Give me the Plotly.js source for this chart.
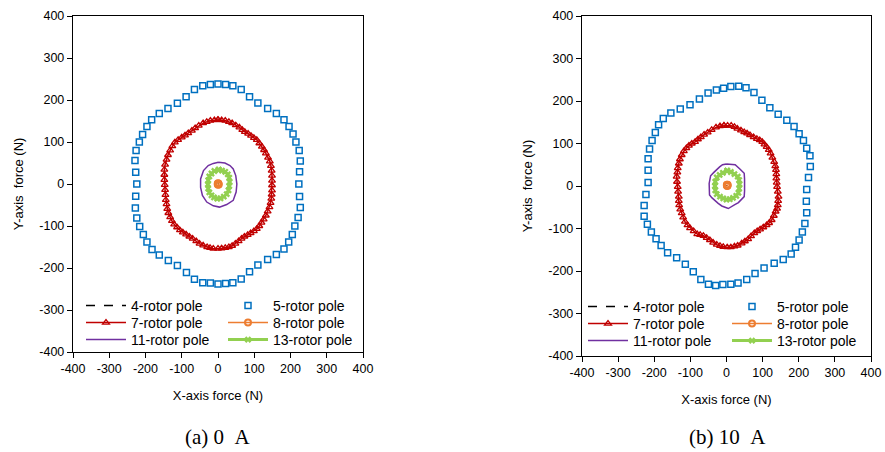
<!DOCTYPE html>
<html>
<head>
<meta charset="utf-8">
<script src="https://cdn.plot.ly/plotly-3.0.1.min.js"></script>
<style>html,body{margin:0;padding:0;background:#fff;}#chart{width:885px;height:452px;}</style>
</head>
<body>
<div id="chart"></div>
<script>
// ---------- tick labels ----------
const tickVals = [-400, -300, -200, -100, 0, 100, 200, 300, 400];
const tickText = ['-400', '-300', '-200', '-100', '0', '100', '200', '300', '400'];
const seriesNames = ['4-rotor pole', '5-rotor pole', '7-rotor pole', '8-rotor pole', '11-rotor pole', '13-rotor pole'];
const captions = ['(a) 0\u00a0\u00a0A', '(b) 10\u00a0\u00a0A'];

// ---------- (a) 0 A : [X force, Y force] ----------
const p4_0A = [[0, 0], [1, 1], [0, 1]];
const p5_0A = [[0,238],[21,237],[41,234],[64,225],[87,208],[110,193],[137,180],[161,168],[182,153],[196,137],[207,119],[215,100],[224,80],[227,55],[225,29],[223,0],
  [225,-30],[227,-56],[221,-80],[212,-100],[205,-120],[195,-138],[182,-155],[161,-168],[137,-180],[110,-193],[87,-209],[64,-226],[41,-235],[21,-237],[0,-238],
  [-21,-236],[-42,-235],[-65,-227],[-87,-211],[-112,-194],[-137,-182],[-162,-169],[-182,-156],[-196,-138],[-206,-120],[-216,-101],[-224,-81],[-228,-57],[-227,-29],[-224,0],
  [-227,28],[-229,56],[-226,80],[-217,100],[-208,118],[-196,137],[-183,153],[-162,168],[-138,180],[-112,192],[-88,208],[-65,225],[-42,234],[-21,237]];
const p7_0A = [[0,153],[10,152],[20,151],[30,148],[39,145],[49,140],[59,135],[67,129],[74,124],[83,120],[91,115],[99,110],[107,105],[114,97],[121,89],[127,81],[132,73],[138,63],[143,54],[146,43],[148,32],[149,20],[149,8],
  [149,-3],[149,-15],[148,-25],[147,-35],[145,-45],[142,-55],[137,-65],[132,-75],[126,-84],[120,-92],[114,-100],[107,-107],[99,-112],[90,-117],[82,-121],[73,-125],[65,-130],[57,-136],[48,-142],[39,-147],[30,-150],[20,-152],[10,-153],
  [0,-154],[-13,-154],[-22,-152],[-30,-150],[-41,-146],[-51,-142],[-60,-136],[-70,-130],[-79,-125],[-88,-120],[-97,-115],[-105,-110],[-113,-103],[-121,-96],[-127,-88],[-132,-79],[-137,-69],[-140,-59],[-142,-48],[-144,-38],[-145,-26],[-146,-14],
  [-147,-2],[-148,10],[-148,22],[-148,34],[-146,46],[-142,58],[-138,69],[-132,80],[-126,90],[-119,99],[-110,105],[-100,111],[-91,116],[-82,121],[-72,127],[-63,133],[-53,139],[-41,145],[-31,148],[-21,151],[-10,152],[0,153]];
const p8_0A = [[1,1],[-1,0],[2,-1],[0,-2],[0,2],[1,0]];
const p11_0A = [[1,52],[10,51],[19,50],[33,44],[42,36],[49,20],[52,0],[50,-19],[42,-39],[24,-49],[4,-55],[-13,-52],[-31,-43],[-43,-27],[-48,-8],[-48,12],[-40,32],[-27,44],[-13,49],[1,52]];
const p13_0A = [[2,34],[11,32],[20,29],[27,23],[31,15],[32,5],[31,-5],[29,-15],[24,-24],[16,-30],[7,-34],[-2,-35],[-11,-32],[-18,-27],[-24,-20],[-27,-11],[-28,-1],[-27,9],[-24,18],[-18,25],[-10,31],[2,34]];

// ---------- (b) 10 A ----------
const p4_10A = [[0, 0], [1, 1], [0, 1]];
const p5_10A = [[-8,230],[12,234],[34,235],[54,231],[76,220],[98,202],[120,184],[143,169],[167,155],[187,140],[201,123],[213,107],[222,89],[231,71],[232,46],[227,20],
  [222,-8],[221,-36],[222,-63],[217,-88],[210,-108],[201,-127],[191,-144],[179,-160],[157,-173],[132,-182],[104,-193],[79,-206],[56,-220],[32,-228],[12,-231],
  [-10,-232],[-30,-234],[-50,-231],[-71,-220],[-92,-202],[-114,-184],[-138,-169],[-163,-157],[-181,-140],[-195,-124],[-208,-108],[-219,-90],[-228,-71],[-228,-46],[-223,-20],
  [-217,8],[-217,37],[-217,64],[-213,87],[-206,107],[-197,126],[-188,144],[-175,159],[-154,172],[-128,181],[-101,191],[-75,205],[-51,219],[-28,226]];
const p7_10A = [[-7,142],[3,142],[13,142],[22,139],[30,135],[40,131],[49,127],[57,124],[65,120],[75,115],[84,111],[92,108],[99,104],[105,98],[111,92],[117,85],[122,77],[127,67],[132,57],[135,47],[137,38],[138,28],[138,18],[139,8],
  [140,-2],[142,-13],[144,-25],[143,-35],[142,-45],[140,-53],[136,-60],[131,-70],[125,-80],[118,-87],[111,-92],[102,-97],[93,-102],[85,-106],[77,-111],[68,-118],[60,-125],[51,-130],[42,-135],[31,-140],[22,-142],[12,-144],[2,-144],
  [-9,-143],[-18,-141],[-27,-138],[-37,-133],[-46,-127],[-55,-122],[-64,-117],[-73,-115],[-81,-113],[-91,-106],[-101,-99],[-108,-92],[-115,-84],[-120,-74],[-124,-64],[-128,-55],[-131,-45],[-132,-35],[-132,-25],[-134,-13],
  [-135,-2],[-137,10],[-138,22],[-136,32],[-135,42],[-132,53],[-129,63],[-124,73],[-118,82],[-111,89],[-104,95],[-96,100],[-87,104],[-79,110],[-71,115],[-62,121],[-52,126],[-41,132],[-29,138],[-18,141],[-7,142]];
const p8_10A = [[2,2],[1,1],[3,3],[2,0],[1,3],[3,1]];
const p11_10A = [[0,52],[12,51],[24,50],[37,40],[49,30],[50,16],[51,2],[50,-12],[49,-25],[41,-32],[33,-39],[23,-44],[14,-49],[5,-53],[-4,-50],[-13,-47],[-23,-41],[-32,-35],[-40,-28],[-47,-21],[-48,-7],[-48,6],[-46,15],[-44,24],[-35,32],[-27,39],[-19,45],[-11,50],[0,52]];
const p13_10A = [[2,36],[12,33],[22,28],[31,22],[35,14],[36,4],[35,-6],[33,-16],[27,-23],[18,-28],[9,-31],[0,-32],[-9,-29],[-18,-25],[-27,-19],[-31,-10],[-32,0],[-31,10],[-27,20],[-19,26],[-10,31],[2,36]];

const panels = [
  [p4_0A, p5_0A, p7_0A, p8_0A, p11_0A, p13_0A],
  [p4_10A, p5_10A, p7_10A, p8_10A, p11_10A, p13_10A]
];

// ---------- styles ----------
const styles = [
  {mode: 'lines', line: {color: '#000000', width: 1.5, dash: 'dash'}},
  {mode: 'markers', marker: {symbol: 'square-open', size: 6, color: '#0070C0', line: {width: 1.5, color: '#0070C0'}}},
  {mode: 'lines+markers', line: {color: '#C00000', width: 1.5}, marker: {symbol: 'triangle-up-open', size: 6, color: '#C00000', line: {width: 1.3, color: '#C00000'}}},
  {mode: 'lines+markers', line: {color: '#ED7D31', width: 1.5}, marker: {symbol: 'circle-open', size: 6, color: '#ED7D31', line: {width: 2, color: '#ED7D31'}}},
  {mode: 'lines', line: {color: '#7030A0', width: 1.5}},
  {mode: 'lines+markers', line: {color: '#92D050', width: 3}, marker: {symbol: 'x', size: 6, color: '#92D050'}}
];

const W = 885, H = 452;
// legend entry positions (px): [left, top] per panel, per series
const legendPos = [
  [[81, 290], [223, 290], [81, 307], [223, 307], [81, 324], [223, 324]],
  [[583, 291], [727, 291], [583, 308], [727, 308], [583, 325], [727, 325]]
];

const traces = [];
const layout = {
  width: W, height: H,
  margin: {l: 0, r: 0, t: 0, b: 0},
  paper_bgcolor: '#ffffff', plot_bgcolor: '#ffffff',
  font: {family: 'Liberation Sans, Arial, sans-serif', size: 12, color: '#000000'},
  showlegend: true,
  annotations: []
};

const xDomains = [[73 / W, 363 / W], [582 / W, 871 / W]];
const yDomains = [[1 - 352 / H, 1 - 16 / H], [1 - 356 / H, 1 - 16 / H]];
const titleX = [218, 727];

let legendIdx = 0;
panels.forEach((series, p) => {
  const xa = p === 0 ? 'x' : 'x2';
  const ya = p === 0 ? 'y' : 'y2';
  series.forEach((pts, s) => {
    legendIdx += 1;
    const lname = legendIdx === 1 ? 'legend' : 'legend' + legendIdx;
    const st = styles[s];
    traces.push(Object.assign({
      type: 'scatter',
      x: pts.map(d => d[0]),
      y: pts.map(d => d[1]),
      name: seriesNames[s],
      xaxis: xa, yaxis: ya,
      legend: lname,
      hoverinfo: 'skip'
    }, JSON.parse(JSON.stringify(st))));
    const pos = legendPos[p][s];
    layout[lname] = {
      x: pos[0] / W, y: 1 - pos[1] / H,
      xanchor: 'left', yanchor: 'top',
      bgcolor: 'rgba(0,0,0,0)', borderwidth: 0,
      itemwidth: 40,
      font: {size: 14, family: 'Liberation Sans, Arial, sans-serif'}
    };
  });
  const axCommon = {
    range: [-400, 400], tickmode: 'array', tickvals: tickVals, ticktext: tickText,
    ticks: 'outside', ticklen: 5, tickwidth: 1, tickcolor: '#000',
    showline: true, linecolor: '#000', linewidth: 1.2, mirror: true,
    showgrid: false, zeroline: false, fixedrange: true,
    tickfont: {size: 12.5}
  };
  layout[p === 0 ? 'xaxis' : 'xaxis2'] = Object.assign({}, axCommon, {
    domain: xDomains[p], anchor: ya,
    title: {text: 'X-axis force (N)', font: {size: 13}, standoff: 15}
  });
  layout[p === 0 ? 'yaxis' : 'yaxis2'] = Object.assign({}, axCommon, {
    domain: yDomains[p], anchor: xa,
    title: {text: 'Y-axis  force (N)', font: {size: 13}, standoff: 12}
  });
  layout.annotations.push({
    xref: 'paper', yref: 'paper', x: titleX[p] / W, y: 1 - 437 / H,
    xanchor: 'center', yanchor: 'middle', showarrow: false,
    text: captions[p],
    font: {family: 'Liberation Serif, Times New Roman, serif', size: 21, color: '#000'}
  });
});

Plotly.newPlot('chart', traces, layout, {staticPlot: true, displayModeBar: false});
</script>
</body>
</html>
